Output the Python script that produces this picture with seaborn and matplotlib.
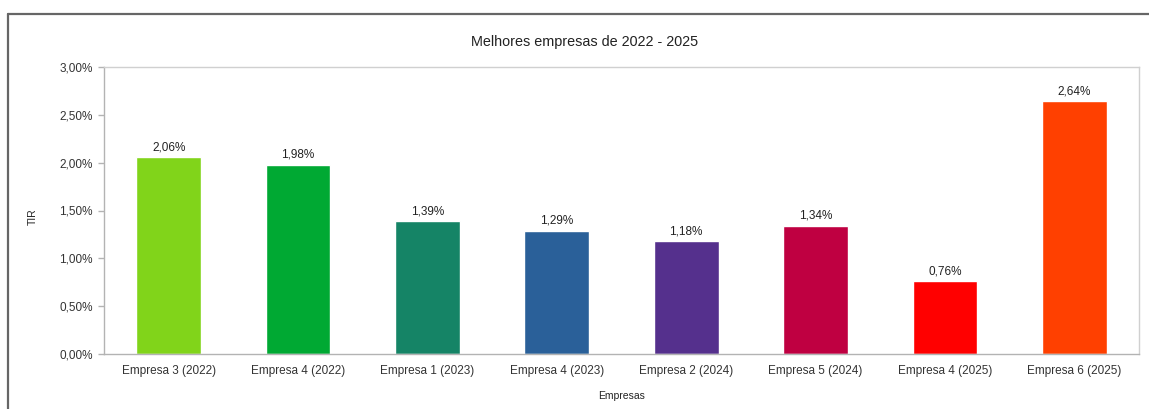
import numpy as np
import pandas as pd
import matplotlib
matplotlib.use("Agg")
import matplotlib.pyplot as plt
import seaborn as sns
from matplotlib.lines import Line2D

empresas = ["Empresa 3 (2022)", "Empresa 4 (2022)", "Empresa 1 (2023)", "Empresa 4 (2023)",
            "Empresa 2 (2024)", "Empresa 5 (2024)", "Empresa 4 (2025)", "Empresa 6 (2025)"]
tir = [2.06, 1.98, 1.39, 1.29, 1.18, 1.34, 0.76, 2.64]
cores = ["#81D41A", "#00A933", "#158466", "#2A6099", "#55308D", "#BF0041", "#FF0000", "#FF4000"]
y_ticks = [0.0, 0.5, 1.0, 1.5, 2.0, 2.5, 3.0]

sns.set_theme(style="white")
plt.rcParams['font.family'] = ['Liberation Sans', 'DejaVu Sans']

df = pd.DataFrame({"Empresas": empresas, "TIR": tir})

fig = plt.figure(figsize=(11.49, 4.09), dpi=100)
ax = fig.add_axes([104 / 1149, 1 - 354 / 409, 1035 / 1149, 287 / 409])

sns.barplot(data=df, x="Empresas", y="TIR", hue="Empresas", palette=cores,
            width=0.5, saturation=1, legend=False, ax=ax)

def fmt(v):
    return f"{v:.2f}%".replace(".", ",")

for i, v in enumerate(tir):
    ax.text(i, v + 0.04, fmt(v), ha="center", va="bottom", fontsize=8.5, color="#222222")

ax.set_xlim(-0.5, len(empresas) - 0.5)
ax.set_ylim(0, 3.0)
ax.set_yticks(y_ticks)
ax.set_yticklabels([fmt(t) for t in y_ticks], fontsize=8.5, color="#333333")
ax.set_xticks(range(len(empresas)))
ax.set_xticklabels(empresas, fontsize=8.5, color="#333333")
ax.set_xticks(np.arange(-0.5, len(empresas), 1.0), minor=True)
ax.tick_params(axis="x", which="major", length=0, pad=8)
ax.tick_params(axis="x", which="minor", length=4, color="#b3b3b3", width=1, direction="out")
ax.tick_params(axis="y", length=4, color="#b3b3b3", width=1, direction="out", pad=4, left=True)

for s in ["left", "top", "right", "bottom"]:
    ax.spines[s].set_visible(True)
    ax.spines[s].set_color("#d0d0d0")
    ax.spines[s].set_linewidth(1)
ax.spines["bottom"].set_color("#b3b3b3")
ax.spines["left"].set_color("#b3b3b3")

ax.set_xlabel("Empresas", fontsize=7.5, color="#222222", labelpad=10)
ax.set_ylabel("TIR", fontsize=7.5, color="#222222")
ax.yaxis.set_label_coords((38 - 104) / 1035, 0.48)

fig.text(585 / 1149, 1 - 42 / 409, "Melhores empresas de 2022 - 2025", fontsize=10.4,
         color="#222222", ha="center", va="center")

# outer chart frame (top and left edges visible)
fig.add_artist(Line2D([8 / 1149, 8 / 1149], [0, 1 - 14 / 409], transform=fig.transFigure,
                      color="#666666", lw=1.6))
fig.add_artist(Line2D([8 / 1149, 1], [1 - 14 / 409, 1 - 14 / 409], transform=fig.transFigure,
                      color="#666666", lw=1.6))

fig.savefig("out.png", dpi=100)
